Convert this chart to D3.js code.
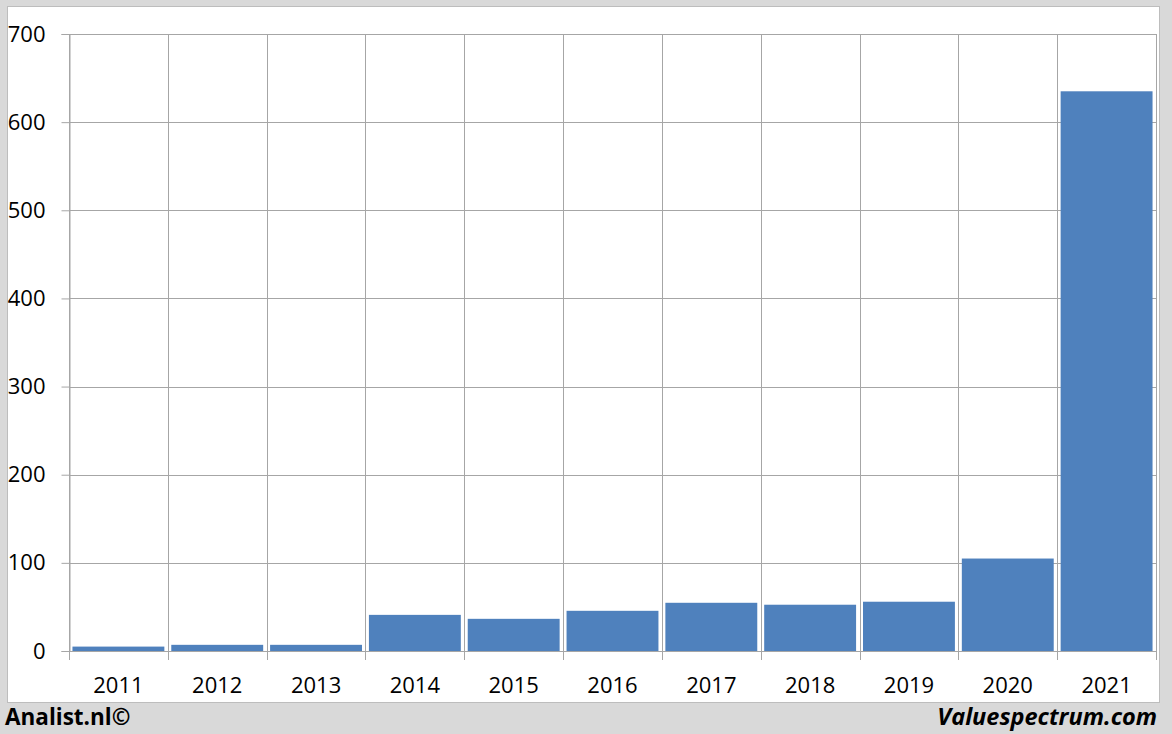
<!DOCTYPE html>
<html>
<head>
<meta charset="utf-8">
<script src="https://cdn.jsdelivr.net/npm/d3@7"></script>
<style>
  body { margin: 0; background: #d9d9d9; }
  svg { display: block; }
</style>
</head>
<body>
<div id="chart"></div>
<script>
// values
const years = ["2011", "2012", "2013", "2014", "2015", "2016", "2017", "2018", "2019", "2020", "2021"];
const values = [5, 7, 7, 41, 36.5, 45.6, 54.7, 52.5, 55.9, 104.9, 635];
const yTicks = [0, 100, 200, 300, 400, 500, 600, 700];

const width = 1172;
const height = 734;
const plot = { left: 69, right: 1156, top: 34, bottom: 651 };

const svg = d3.select('#chart').append('svg')
    .attr('width', width)
    .attr('height', height);

svg.append('rect')
    .attr('width', width)
    .attr('height', height)
    .attr('fill', '#d9d9d9');

// white panel
svg.append('rect')
    .attr('x', 7.5)
    .attr('y', 6.5)
    .attr('width', 1152)
    .attr('height', 696)
    .attr('fill', '#ffffff')
    .attr('stroke', '#bdbdbd')
    .attr('stroke-width', 1);

const xScale = d3.scaleBand()
    .domain(years)
    .range([plot.left, plot.right])
    .paddingInner(0.07)
    .paddingOuter(0.035);

const xBand = d3.scaleBand()
    .domain(years)
    .range([plot.left, plot.right]);

const yScale = d3.scaleLinear()
    .domain([0, 700])
    .range([plot.bottom, plot.top]);

const gridColor = '#a6a6a6';

// horizontal grid
svg.append('g')
    .attr('transform', `translate(${plot.left}, 0)`)
    .call(d3.axisLeft(yScale).tickValues(yTicks).tickSize(-(plot.right - plot.left)).tickFormat(''))
    .call(g => g.select('.domain').remove())
    .call(g => g.selectAll('line').attr('stroke', gridColor).attr('shape-rendering', 'crispEdges'));

// vertical grid at category boundaries
const boundaries = years.map(y => xBand(y)).concat([plot.right]);
svg.append('g')
    .selectAll('line')
    .data(boundaries)
    .enter()
    .append('line')
    .attr('x1', d => Math.round(d) + 0.5)
    .attr('x2', d => Math.round(d) + 0.5)
    .attr('y1', plot.top)
    .attr('y2', plot.bottom + 9)
    .attr('stroke', gridColor);

// bars
svg.append('g')
    .selectAll('rect')
    .data(values)
    .enter()
    .append('rect')
    .attr('x', (d, i) => xScale(years[i]))
    .attr('y', d => yScale(d))
    .attr('width', xScale.bandwidth())
    .attr('height', d => yScale(0) - yScale(d))
    .attr('fill', '#4f81bd');

// y axis
const yAxis = svg.append('g')
    .attr('transform', `translate(${plot.left + 0.5}, 0)`)
    .call(d3.axisLeft(yScale).tickValues(yTicks).tickSize(8).tickPadding(16));
yAxis.select('.domain').attr('stroke', gridColor);
yAxis.selectAll('line').attr('stroke', gridColor);
yAxis.selectAll('text')
    .attr('font-family', '"Open Sans", sans-serif')
    .attr('font-size', 22)
    .attr('fill', '#000');

// zero line
svg.append('line')
    .attr('x1', plot.left)
    .attr('x2', plot.right)
    .attr('y1', Math.round(yScale(0)) + 0.5)
    .attr('y2', Math.round(yScale(0)) + 0.5)
    .attr('stroke', gridColor);

// x labels
const xAxis = svg.append('g')
    .attr('transform', `translate(0, ${plot.bottom})`)
    .call(d3.axisBottom(xBand).tickSize(0).tickPadding(26));
xAxis.select('.domain').remove();
xAxis.selectAll('text')
    .attr('font-family', '"Open Sans", sans-serif')
    .attr('font-size', 22)
    .attr('fill', '#000');

// footer
svg.append('text')
    .attr('x', 5)
    .attr('y', 725)
    .attr('font-family', '"Open Sans", sans-serif')
    .attr('font-weight', 'bold')
    .attr('font-size', 22.5)
    .attr('fill', '#000')
    .text('Analist.nl©');

svg.append('text')
    .attr('x', 1157)
    .attr('y', 725)
    .attr('text-anchor', 'end')
    .attr('font-family', '"Open Sans", sans-serif')
    .attr('font-weight', 'bold')
    .attr('font-style', 'italic')
    .attr('font-size', 23.5)
    .attr('fill', '#000')
    .text('Valuespectrum.com');
</script>
</body>
</html>
